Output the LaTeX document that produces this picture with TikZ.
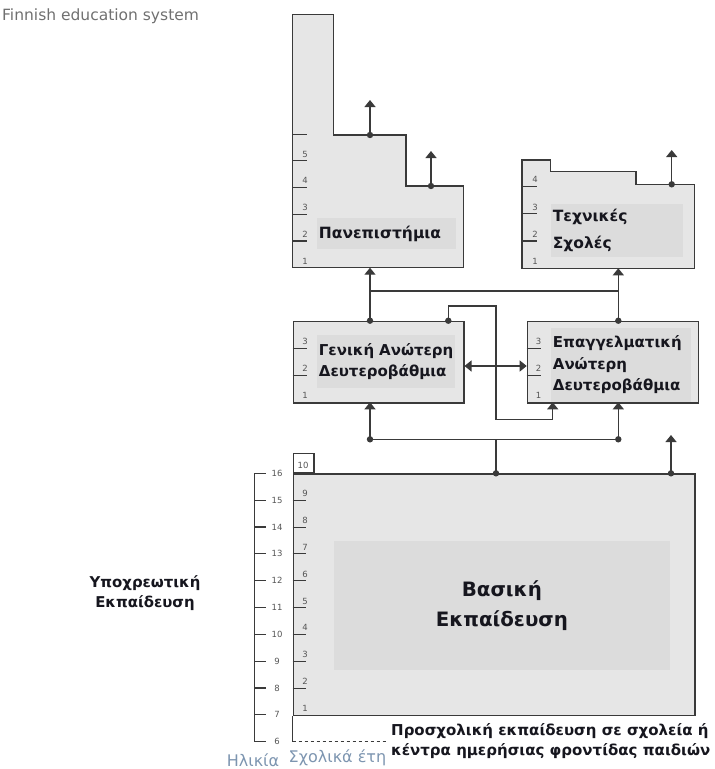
\documentclass[tikz,border=0pt]{standalone}
\usepackage{fontspec}
\setmainfont{DejaVu Sans}
\usepackage{tikz}
\usetikzlibrary{arrows.meta,positioning}
\definecolor{linec}{HTML}{3A3A3A}
\definecolor{boxgray}{HTML}{E6E6E6}
\definecolor{lblgray}{HTML}{DCDCDC}
\definecolor{numgray}{HTML}{555555}
\definecolor{txtc}{HTML}{16161E}
\definecolor{titlegray}{HTML}{707070}
\definecolor{ageblue}{HTML}{7D95B0}
\tikzset{
    box/.style={draw=linec, fill=boxgray, line width=1.2pt},
    stagebox/.style={box, anchor=north west, inner sep=0pt},
    lblbg/.style={fill=lblgray, anchor=north west, inner sep=2pt, align=left,
        text=txtc, font=\bfseries\fontsize{15}{21.5}\selectfont},
    yr/.style={font=\fontsize{8.5}{8.5}\selectfont, text=numgray, inner sep=0pt, anchor=base},
    tickln/.style={draw=linec, line width=1.1pt},
    conn/.style={draw=linec, line width=1.3pt},
    up/.style={conn, -{Triangle[width=11pt,length=7pt]}},
    both/.style={conn, {Triangle[width=11pt,length=7pt]}-{Triangle[width=11pt,length=7pt]}},
    dot/.style={fill=linec}
}
\begin{document}
\begin{tikzpicture}[x=1pt,y=-1pt]
    \useasboundingbox (0,0) rectangle (715,769);
    \node[anchor=west, text=titlegray, font=\fontsize{15.5}{17}\selectfont, inner sep=0pt] (title) at (2,16) {Finnish education system};

    % universities
    \draw[box] (292.7,14.3) -- (333.3,14.3) -- (333.3,135) -- (406,135) -- (406,186)
        -- (463.3,186) -- (463.3,267.7) -- (292.7,267.7) -- cycle;
    \foreach \n in {1,...,5}
    \node[yr] at (305,264-26.7*\n+26.7) {\n};
    \foreach \n in {1,...,5}
    \draw[tickln] (292.7,267.7-26.7*\n) -- (307.3,267.7-26.7*\n);
    \node[lblbg, minimum width=139.3pt, minimum height=31pt, text width=135.3pt,
        font=\bfseries\fontsize{15.5}{21.5}\selectfont] (uni) at (316.7,218) {Πανεπιστήμια};
    \coordinate (uniB) at (370,267.7);
    \coordinate (uni5) at (370,135);
    \coordinate (uni5up) at (370,100);
    \coordinate (uni4) at (431,186);
    \coordinate (uni4up) at (431,151);

    % technical schools
    \draw[box] (522,160) -- (550.7,160) -- (550.7,171.7) -- (636,171.7) -- (636,184.3)
        -- (694.3,184.3) -- (694.3,268.3) -- (522,268.3) -- cycle;
    \foreach \n in {1,...,4}
    \node[yr] at (535,264.6-27.3*\n+27.3) {\n};
    \foreach \n in {1,...,3}
    \draw[tickln] (522,268.3-27.3*\n) -- (537,268.3-27.3*\n);
    \node[lblbg, minimum width=132.3pt, minimum height=53pt, text width=128.3pt,
        font=\bfseries\fontsize{15.5}{26.7}\selectfont] (tec) at (550.7,204) {Τεχνικές\\Σχολές};
    \coordinate (tecB) at (618.3,268.3);
    \coordinate (tec4) at (671.7,184.3);
    \coordinate (tec4up) at (671.7,150);

    % upper secondary
    \node[stagebox, minimum width=170.6pt, minimum height=81.6pt] (gen) at (292.7,320.7) {};
    \node[stagebox, minimum width=171pt, minimum height=81.6pt] (voc) at (526.7,320.7) {};
    \foreach \n in {1,2,3} {
        \node[yr] at (305,398.6-27*\n+27) {\n};
        \node[yr] at (538.5,398.6-27*\n+27) {\n};
    }
    \foreach \n in {1,2} {
        \draw[tickln] (292.7,402.3-27*\n) -- (306.5,402.3-27*\n);
        \draw[tickln] (526.7,402.3-27*\n) -- (540.5,402.3-27*\n);
    }
    \node[lblbg, minimum width=138.3pt, minimum height=53pt, text width=134.3pt] (genlbl) at (316.7,335) {Γενική~Ανώτερη\\Δευτεροβάθμια};
    \node[lblbg, minimum width=140pt, minimum height=73.7pt, text width=136pt] (voclbl) at (550.7,328) {Επαγγελματική\\Ανώτερη\\Δευτεροβάθμια};

    % basic education
    \node[stagebox, minimum width=401.6pt, minimum height=241.7pt] (bas) at (292.7,473.3) {};
    \node[draw=linec, line width=1.2pt, fill=white, anchor=south west, inner sep=0pt,
        minimum width=20.6pt, minimum height=19pt] (ten) at (bas.north west) {};
    \node[yr] at (303,468) {10};
    \foreach \n in {1,...,9}
    \node[yr] at (305,711.5-26.85*\n+26.85) {\n};
    \foreach \n in {1,...,8}
    \draw[tickln] (292.7,715-26.85*\n) -- (306,715-26.85*\n);
    \node[lblbg, minimum width=336.7pt, minimum height=128.6pt, align=center,
        font=\bfseries\fontsize{19.8}{30}\selectfont] (baslbl) at (333.3,540.7) {Βασική\\Εκπαίδευση};
    \coordinate (basA) at (496,473.3);
    \coordinate (basB) at (671,473.3);
    \coordinate (basBup) at (671,435);

    % age axis
    \draw[tickln] (254.3,473.3) -- (254.3,741.7);
    \foreach \a in {6,...,16} {
        \draw[tickln] (254.3,741.7-26.84*\a+161.04) -- (265.7,741.7-26.84*\a+161.04);
        \node[yr, anchor=center] at (277,741.7-26.84*\a+161.04) {\a};
    }
    \draw[tickln] (bas.south west) -- (292.7,741.7);
    \coordinate (pre) at (386.7,741.7);
    \draw[linec, line width=1pt, dashed] (292.7,741.7) -- (pre);

    % connectors
    \coordinate (genT) at (370,320.7);
    \coordinate (vocT) at (618.3,320.7);
    \coordinate (genB) at (370,402.3);
    \coordinate (vocB) at (618.3,402.3);
    \coordinate (genX) at (448.3,320.7);
    \coordinate (vocX) at (552.7,402.3);
    \coordinate (jL) at (370,439.3);
    \coordinate (jR) at (618.3,439.3);
    \draw[up] (uni5) -- (uni5up);
    \draw[up] (uni4) -- (uni4up);
    \draw[up] (tec4) -- (tec4up);
    \draw[up] (genT) -- (uniB);
    \draw[up] (vocT) -- (tecB);
    \draw[conn] (370,291) -- (618.3,291);
    \draw[up] (genX) -- (448.3,306) -- (496,306) -- (496,419.3) -- (552.7,419.3) -- (vocX);
    \draw[both] (gen.east |- 0,366) -- (voc.west |- 0,366);
    \draw[up] (jL) -- (genB);
    \draw[up] (jR) -- (vocB);
    \draw[conn] (jL) -- (jR);
    \draw[conn] (basA) -- (basA |- jL);
    \draw[up] (basB) -- (basBup);
    \foreach \c in {uni5,uni4,tec4,genT,vocT,genX,jL,jR,basA,basB}
    \fill[dot] (\c) circle (3.2pt);

    % side and bottom texts
    \node[align=center, text=txtc, font=\bfseries\fontsize{14.9}{20}\selectfont] (comp) at (145,593) {Υποχρεωτική\\Εκπαίδευση};
    \node[anchor=north west, align=left, inner sep=0pt, text=txtc,
        font=\bfseries\fontsize{15}{20}\selectfont] (prelbl) at (391,723) {Προσχολική εκπαίδευση σε σχολεία ή\\κέντρα ημερήσιας φροντίδας παιδιών};
    \node[text=ageblue, font=\fontsize{16}{16}\selectfont, inner sep=0pt] (age) at (253,760) {Ηλικία};
    \node[text=ageblue, font=\fontsize{16}{16}\selectfont, inner sep=0pt] (years) at (337.5,758) {Σχολικά έτη};
\end{tikzpicture}
\end{document}
